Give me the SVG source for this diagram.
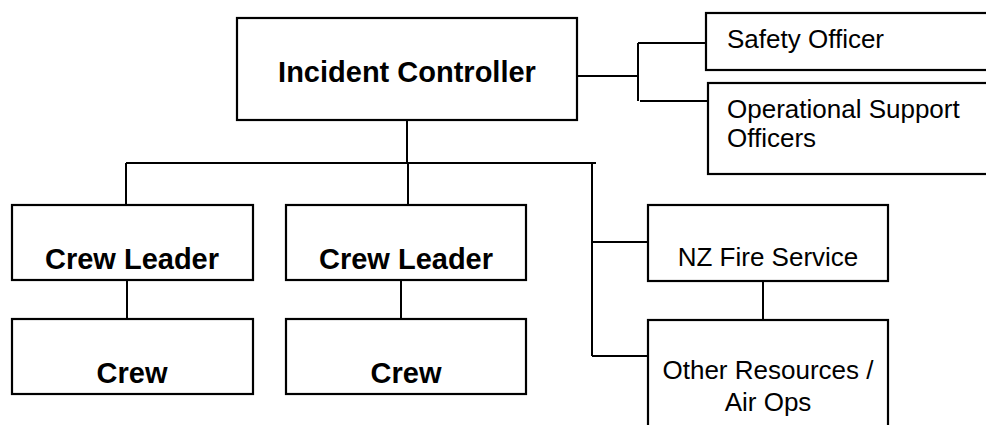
<svg xmlns="http://www.w3.org/2000/svg" width="986" height="425" viewBox="0 0 986 425">
<style>
.box{fill:#fff;stroke:#000;stroke-width:2.2}
.b{font-family:"Liberation Sans",Arial,sans-serif;font-weight:bold;font-size:29px;fill:#000;text-anchor:middle}
.r{font-family:"Liberation Sans",Arial,sans-serif;font-size:26px;fill:#000}
.c{text-anchor:middle}
#connectors path{fill:none;stroke:#000;stroke-width:2}
</style>
<rect width="986" height="425" fill="#fff"/>
<g id="connectors">
<path d="M407,121 V163 M126,163 H596 M126,163 V205 M408,163 V205 M592,163 V356 M592,242 H648 M592,356 H648"/>
<path d="M127,280 V319 M401,280 V319 M763,281 V320"/>
<path d="M577,76 H638 M638,43 V101 M638,43 H707 M640,101 H709"/>
</g>
<g id="incident-controller">
<rect class="box" x="237" y="18" width="340" height="102"/>
<text class="b" x="407" y="82">Incident Controller</text>
</g>
<g id="safety-officer">
<rect class="box" x="706" y="13" width="290" height="57"/>
<text class="r" x="727" y="48">Safety Officer</text>
</g>
<g id="operational-support">
<rect class="box" x="708" y="83" width="290" height="91"/>
<text class="r" x="727" y="118">Operational Support</text>
<text class="r" x="727" y="147">Officers</text>
</g>
<g id="crew-leader-1">
<rect class="box" x="12" y="205" width="241" height="75"/>
<text class="b" x="132" y="269">Crew Leader</text>
</g>
<g id="crew-1">
<rect class="box" x="12" y="319" width="241" height="75"/>
<text class="b" x="132" y="383">Crew</text>
</g>
<g id="crew-leader-2">
<rect class="box" x="286" y="205" width="240" height="75"/>
<text class="b" x="406" y="269">Crew Leader</text>
</g>
<g id="crew-2">
<rect class="box" x="286" y="319" width="240" height="75"/>
<text class="b" x="406" y="383">Crew</text>
</g>
<g id="nz-fire-service">
<rect class="box" x="648" y="205" width="240" height="76"/>
<text class="r c" x="768" y="266">NZ Fire Service</text>
</g>
<g id="other-resources">
<rect class="box" x="648" y="320" width="240" height="120"/>
<text class="r c" x="768" y="379">Other Resources /</text>
<text class="r c" x="768" y="411">Air Ops</text>
</g>
</svg>
